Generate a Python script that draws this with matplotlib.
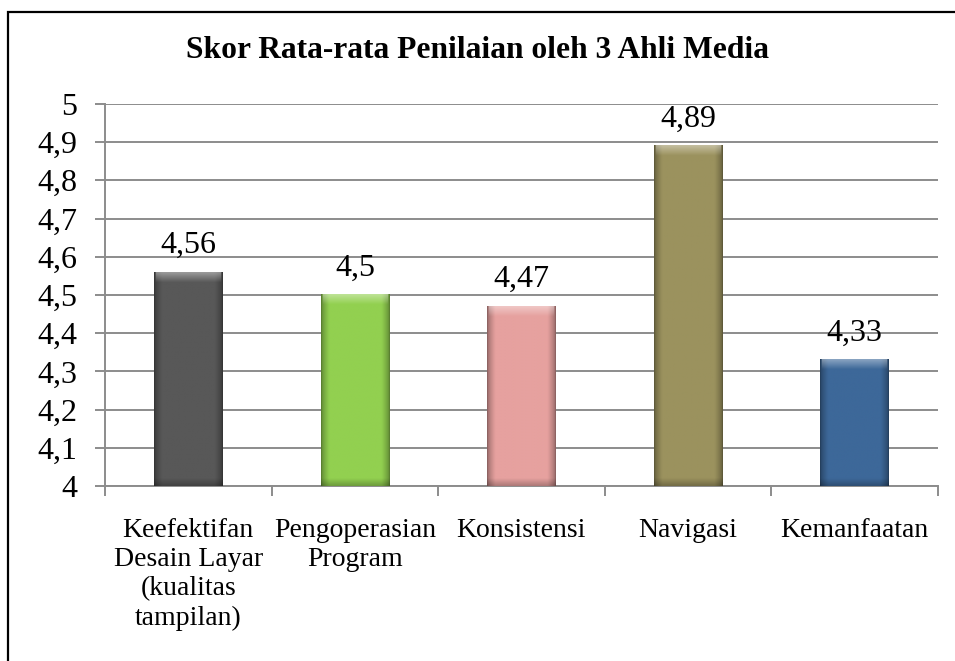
import numpy as np
import matplotlib
matplotlib.use("Agg")
import matplotlib.pyplot as plt
from matplotlib.colors import to_rgb
from matplotlib.patches import Rectangle

# scores per aspect
categories = ["Keefektifan\nDesain Layar\n(kualitas\ntampilan)", "Pengoperasian\nProgram",
              "Konsistensi", "Navigasi", "Kemanfaatan"]
scores = [4.56, 4.5, 4.47, 4.89, 4.33]
bar_colors = ["#585858", "#92d050", "#e6a19f", "#9b925e", "#3d6899"]
y_ticks = [4.0, 4.1, 4.2, 4.3, 4.4, 4.5, 4.6, 4.7, 4.8, 4.9, 5.0]

plt.rcParams['font.family'] = ['Liberation Serif', 'DejaVu Serif']

fig = plt.figure(figsize=(9.55, 6.61), dpi=100)
ax = fig.add_axes([0.110, 0.2648, 0.872, 0.578])

# outer frame (runs off the right and bottom edge)
fig.patches.append(Rectangle((8 / 955, -0.05), 1.2, 1 - 12 / 661 + 0.05,
                             transform=fig.transFigure, fill=False,
                             edgecolor="black", linewidth=1.6, zorder=0))

x = np.arange(len(scores))
ymin, ymax = 4.0, 5.0
bars = ax.bar(x, scores, width=0.41, color=bar_colors, zorder=2)


def shade_bar(bar, color):
    # bevelled look: darker side edges, lighter top rim
    x0, w = bar.get_x(), bar.get_width()
    top = bar.get_height()
    nx, ny = 80, 300
    xs = np.linspace(0, 1, nx)
    ys = np.linspace(ymin, top, ny)[::-1]
    edge = np.minimum(xs, 1 - xs)
    side = np.clip(edge / 0.12, 0, 1)
    shade = 0.6 + 0.4 * side ** 0.6
    img = np.ones((ny, nx, 3)) * np.array(to_rgb(color))
    img = img * shade[None, :, None]
    dist_top = (top - ys)[:, None]
    rim = np.clip(1 - dist_top / 0.026, 0, 1)
    rim = rim * (side[None, :] > 0.15)
    img = img + (1 - img) * 0.4 * rim[:, :, None]
    dist_bot = (ys - ymin)[:, None]
    img = img * (1 - 0.25 * np.clip(1 - dist_bot / 0.02, 0, 1))[:, :, None]
    ax.imshow(np.clip(img, 0, 1), extent=(x0, x0 + w, ymin, top), aspect='auto',
              zorder=3, interpolation='bilinear')


for b, c in zip(bars, bar_colors):
    shade_bar(b, c)

for xi, v in zip(x, scores):
    ax.annotate(f"{v:g}".replace(".", ","), (xi, v), xytext=(0, 9),
                textcoords="offset points", ha="center", va="bottom",
                fontsize=23, zorder=4)

ax.set_xlim(-0.5, len(scores) - 0.5)
ax.set_ylim(ymin, ymax)
ax.set_yticks(y_ticks)
ax.set_yticklabels([f"{t:g}".replace(".", ",") for t in y_ticks], fontsize=23)
ax.yaxis.grid(True, color="#8c8c8c", linewidth=1.4, zorder=1)
ax.set_axisbelow(True)

ax.set_xticks(x)
ax.set_xticklabels(categories, fontsize=20, linespacing=1.22)
ax.set_xticks(np.arange(len(scores) + 1) - 0.5, minor=True)
ax.tick_params(axis="x", which="major", length=0, pad=23)
ax.tick_params(axis="x", which="minor", length=7, width=1.4, color="#8c8c8c")
ax.tick_params(axis="y", length=7, width=1.4, color="#8c8c8c", pad=13)

for s in ["top", "right"]:
    ax.spines[s].set_visible(False)
for s in ["left", "bottom"]:
    ax.spines[s].set_color("#8c8c8c")
    ax.spines[s].set_linewidth(1.4)

fig.text(0.5, 0.924, "Skor Rata-rata Penilaian oleh 3 Ahli Media", ha="center",
         va="center", fontsize=22.7, fontweight="bold")

fig.savefig("out.png", dpi=100)
